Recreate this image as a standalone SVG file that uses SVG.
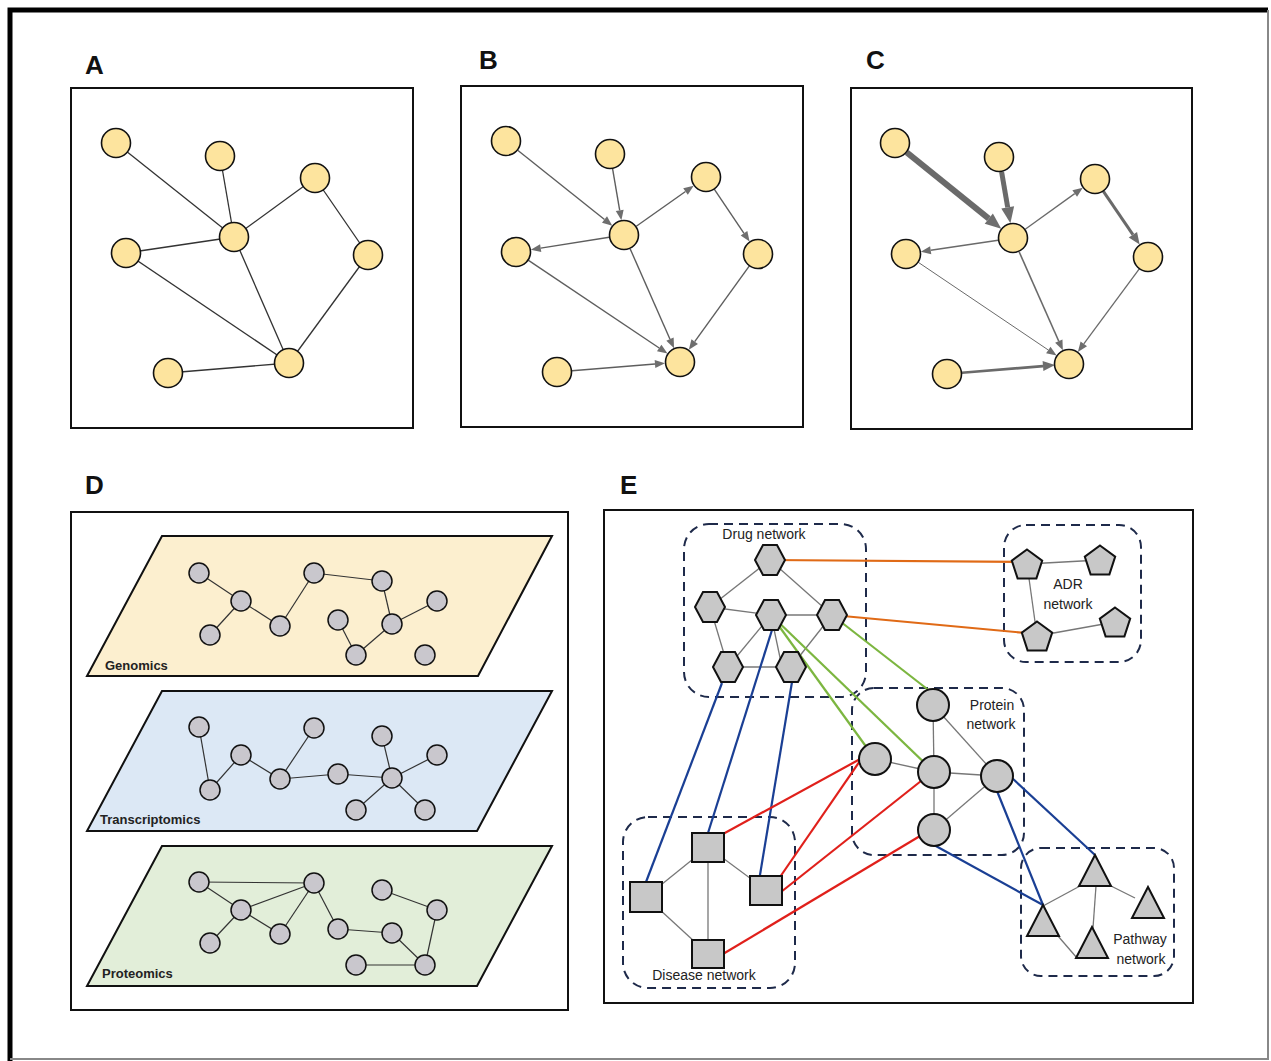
<svg xmlns="http://www.w3.org/2000/svg" xmlns:xlink="http://www.w3.org/1999/xlink" width="1271" height="1061" viewBox="0 0 1271 1061">
<style>
.frame{fill:none;stroke:#111;stroke-width:2}
.yn{fill:#fde49e;stroke:#111;stroke-width:1.6}
.ea{stroke:#333;stroke-width:1.3;fill:none}
.eb{stroke:#5e5e5e;stroke-width:1.4;fill:none}
.ec{stroke:#6a6a6a;fill:none}
.lbl{font-family:"Liberation Sans",Arial,sans-serif;font-weight:bold;font-size:26px;fill:#111}
.gn{fill:#c9c7cd;stroke:#111;stroke-width:1.5}
.ge{stroke:#333;stroke-width:1.2;fill:none}
.lt{font-family:"Liberation Sans",Arial,sans-serif;font-weight:bold;font-size:13px;fill:#222}
.en{fill:#c8c8c8;stroke:#111;stroke-width:2}
.ee{stroke:#777;stroke-width:1.3;fill:none}
.dash{fill:none;stroke:#1e2a4a;stroke-width:2;stroke-dasharray:9 6}
.t{font-family:"Liberation Sans",Arial,sans-serif;font-size:14px;fill:#222;text-anchor:middle}
.or{stroke:#e06a16;stroke-width:2.2;fill:none}
.gr{stroke:#7cb640;stroke-width:2.2;fill:none}
.bl{stroke:#1a3f94;stroke-width:2.2;fill:none}
.rd{stroke:#e0201b;stroke-width:2.2;fill:none}
</style>
<defs>
<marker id="ah" markerUnits="userSpaceOnUse" markerWidth="10" markerHeight="8" refX="0" refY="4" orient="auto" overflow="visible"><path d="M0,0 L10,4 L0,8 z" fill="#6e6e6e"/></marker>
<marker id="ahm" markerUnits="userSpaceOnUse" markerWidth="12" markerHeight="10" refX="0" refY="5" orient="auto" overflow="visible"><path d="M0,0 L12,5 L0,10 z" fill="#6e6e6e"/></marker>
<marker id="ahl" markerUnits="userSpaceOnUse" markerWidth="16" markerHeight="13" refX="0" refY="6.5" orient="auto" overflow="visible"><path d="M0,0 L16,6.5 L0,13 z" fill="#6e6e6e"/></marker>
<polygon id="hex" points="-15,0 -7,-15 7,-15 15,0 7,15 -7,15"/>
<polygon id="pent" points="0,-16 15.2,-4.9 9.4,12.9 -9.4,12.9 -15.2,-4.9"/>
<polygon id="tri" points="0,0 16,31 -16,31"/>
</defs>
<rect width="1271" height="1061" fill="#fff"/>
<!-- outer frame -->
<g id="outer-frame">
<path d="M10,1061 L10,10 L1268,10" fill="none" stroke="#000" stroke-width="5"/>
<path d="M1268,10 L1268,1059 L10,1059" fill="none" stroke="#888" stroke-width="2"/>
</g>

<!-- Panel labels -->
<g id="labels">
<text class="lbl" x="85" y="74">A</text>
<text class="lbl" x="479" y="69">B</text>
<text class="lbl" x="866" y="69">C</text>
<text class="lbl" x="85" y="494">D</text>
<text class="lbl" x="620" y="494">E</text>
</g>

<!-- Panel frames -->
<g id="panel-frames">
<rect class="frame" x="71" y="88" width="342" height="340"/>
<rect class="frame" x="461" y="86" width="342" height="341"/>
<rect class="frame" x="851" y="88" width="341" height="341"/>
<rect class="frame" x="71" y="512" width="497" height="498"/>
<rect class="frame" x="604" y="510" width="589" height="493"/>
</g>

<!-- Panel D planes -->
<g id="planes">
<polygon points="162,536 552,536 478,676 87,676" fill="#fcefcf" stroke="#111" stroke-width="2"/>
<polygon points="162,691 552,691 477,831 87,831" fill="#dce8f5" stroke="#111" stroke-width="2"/>
<polygon points="162,846 552,846 477,986 87,986" fill="#e2eed9" stroke="#111" stroke-width="2"/>
<text class="lt" x="105" y="670">Genomics</text>
<text class="lt" x="100" y="824">Transcriptomics</text>
<text class="lt" x="102" y="978">Proteomics</text>
</g>

<!-- Panel E group boxes -->
<g id="groups-E">
<rect class="dash" x="684" y="524" width="182" height="173" rx="25"/>
<rect class="dash" x="1004" y="525" width="137" height="137" rx="22"/>
<rect class="dash" x="852" y="688" width="172" height="167" rx="22"/>
<rect class="dash" x="623" y="817" width="172" height="171" rx="25"/>
<rect class="dash" x="1021" y="848" width="153" height="128" rx="20"/>
<text class="t" x="764" y="539">Drug network</text>
<text class="t" x="1068" y="589">ADR</text>
<text class="t" x="1068" y="609">network</text>
<text class="t" x="992" y="710">Protein</text>
<text class="t" x="991" y="729">network</text>
<text class="t" x="704" y="980">Disease network</text>
<text class="t" x="1140" y="944">Pathway</text>
<text class="t" x="1141" y="964">network</text>
</g>

<!-- Connectors -->
<g id="connectors">
<!-- A -->
<line class="ea" x1="116" y1="143" x2="234" y2="237"/>
<line class="ea" x1="220" y1="156" x2="234" y2="237"/>
<line class="ea" x1="234" y1="237" x2="315" y2="178"/>
<line class="ea" x1="126" y1="253" x2="234" y2="237"/>
<line class="ea" x1="315" y1="178" x2="368" y2="255"/>
<line class="ea" x1="126" y1="253" x2="289" y2="363"/>
<line class="ea" x1="234" y1="237" x2="289" y2="363"/>
<line class="ea" x1="368" y1="255" x2="289" y2="363"/>
<line class="ea" x1="168" y1="373" x2="289" y2="363"/>
<!-- B -->
<line class="eb" x1="517.7" y1="150.3" x2="604.5" y2="219.5" marker-end="url(#ah)"/>
<line class="eb" x1="612.6" y1="168.8" x2="619.7" y2="210.4" marker-end="url(#ah)"/>
<line class="eb" x1="636.3" y1="226.3" x2="685.5" y2="191.5" marker-end="url(#ah)"/>
<line class="eb" x1="609.2" y1="237.3" x2="540.7" y2="248.1" marker-end="url(#ah)"/>
<line class="eb" x1="714.4" y1="189.4" x2="744.0" y2="233.3" marker-end="url(#ah)"/>
<line class="eb" x1="528.5" y1="260.4" x2="659.2" y2="348.0" marker-end="url(#ah)"/>
<line class="eb" x1="630.1" y1="248.7" x2="670.0" y2="339.2" marker-end="url(#ah)"/>
<line class="eb" x1="749.2" y1="266.2" x2="694.7" y2="341.7" marker-end="url(#ah)"/>
<line class="eb" x1="572" y1="370.8" x2="655.0" y2="364.0" marker-end="url(#ah)"/>
<!-- C -->
<line class="ec" stroke-width="6" x1="906.7" y1="152.4" x2="988.8" y2="218.6" marker-end="url(#ahl)"/>
<line class="ec" stroke-width="5" x1="1001.6" y1="171.8" x2="1007.7" y2="207.4" marker-end="url(#ahl)"/>
<line class="ec" stroke-width="1.3" x1="1025.2" y1="229.2" x2="1074.7" y2="193.6" marker-end="url(#ah)"/>
<line class="ec" stroke-width="1.6" x1="998.2" y1="240.2" x2="930.7" y2="250.3" marker-end="url(#ah)"/>
<line class="ec" stroke-width="3" x1="1103.4" y1="191.4" x2="1132.9" y2="234.7" marker-end="url(#ahm)"/>
<line class="ec" stroke-width="1" x1="918.4" y1="262.4" x2="1048.3" y2="350.0" marker-end="url(#ah)"/>
<line class="ec" stroke-width="1.6" x1="1019.1" y1="251.7" x2="1058.8" y2="341.2" marker-end="url(#ah)"/>
<line class="ec" stroke-width="1.3" x1="1139.1" y1="269.1" x2="1083.8" y2="343.9" marker-end="url(#ah)"/>
<line class="ec" stroke-width="2.6" x1="962" y1="372.8" x2="1043.0" y2="366.1" marker-end="url(#ahm)"/>
<!-- D genomics -->
<line class="ge" x1="199" y1="573" x2="241" y2="601"/>
<line class="ge" x1="241" y1="601" x2="210" y2="635"/>
<line class="ge" x1="241" y1="601" x2="280" y2="626"/>
<line class="ge" x1="280" y1="626" x2="314" y2="573"/>
<line class="ge" x1="314" y1="573" x2="382" y2="581"/>
<line class="ge" x1="382" y1="581" x2="392" y2="624"/>
<line class="ge" x1="392" y1="624" x2="437" y2="601"/>
<line class="ge" x1="392" y1="624" x2="356" y2="655"/>
<line class="ge" x1="356" y1="655" x2="338" y2="620"/>
<!-- D transcriptomics -->
<line class="ge" x1="199" y1="727" x2="210" y2="790"/>
<line class="ge" x1="210" y1="790" x2="241" y2="755"/>
<line class="ge" x1="241" y1="755" x2="280" y2="779"/>
<line class="ge" x1="280" y1="779" x2="314" y2="728"/>
<line class="ge" x1="280" y1="779" x2="338" y2="774"/>
<line class="ge" x1="338" y1="774" x2="392" y2="778"/>
<line class="ge" x1="382" y1="736" x2="392" y2="778"/>
<line class="ge" x1="392" y1="778" x2="437" y2="755"/>
<line class="ge" x1="392" y1="778" x2="356" y2="810"/>
<line class="ge" x1="392" y1="778" x2="425" y2="810"/>
<!-- D proteomics -->
<line class="ge" x1="199" y1="882" x2="314" y2="883"/>
<line class="ge" x1="199" y1="882" x2="241" y2="910"/>
<line class="ge" x1="241" y1="910" x2="314" y2="883"/>
<line class="ge" x1="241" y1="910" x2="210" y2="943"/>
<line class="ge" x1="241" y1="910" x2="280" y2="934"/>
<line class="ge" x1="280" y1="934" x2="314" y2="883"/>
<line class="ge" x1="314" y1="883" x2="338" y2="929"/>
<line class="ge" x1="338" y1="929" x2="392" y2="933"/>
<line class="ge" x1="392" y1="933" x2="425" y2="965"/>
<line class="ge" x1="425" y1="965" x2="437" y2="910"/>
<line class="ge" x1="437" y1="910" x2="382" y2="890"/>
<line class="ge" x1="356" y1="965" x2="425" y2="965"/>
<!-- E internal: drug -->
<line class="ee" x1="770" y1="560" x2="710" y2="607"/>
<line class="ee" x1="770" y1="560" x2="832" y2="615"/>
<line class="ee" x1="710" y1="607" x2="771" y2="615"/>
<line class="ee" x1="710" y1="607" x2="728" y2="667"/>
<line class="ee" x1="771" y1="615" x2="832" y2="615"/>
<line class="ee" x1="771" y1="615" x2="728" y2="667"/>
<line class="ee" x1="771" y1="615" x2="782" y2="667"/>
<line class="ee" x1="832" y1="615" x2="791" y2="667"/>
<line class="ee" x1="728" y1="667" x2="791" y2="667"/>
<!-- E internal: ADR -->
<line class="ee" x1="1027" y1="564" x2="1100" y2="560"/>
<line class="ee" x1="1027" y1="564" x2="1037" y2="636"/>
<line class="ee" x1="1037" y1="636" x2="1115" y2="622"/>
<!-- E internal: protein -->
<line class="ee" x1="933" y1="705" x2="934" y2="772"/>
<line class="ee" x1="933" y1="705" x2="997" y2="776"/>
<line class="ee" x1="934" y1="772" x2="997" y2="776"/>
<line class="ee" x1="934" y1="772" x2="934" y2="830"/>
<line class="ee" x1="934" y1="830" x2="997" y2="776"/>
<line class="ee" x1="875" y1="759" x2="934" y2="772"/>
<!-- E internal: disease -->
<line class="ee" x1="708" y1="847" x2="646" y2="897"/>
<line class="ee" x1="708" y1="847" x2="766" y2="890"/>
<line class="ee" x1="708" y1="847" x2="708" y2="954"/>
<line class="ee" x1="646" y1="897" x2="708" y2="954"/>
<!-- E internal: pathway -->
<line class="ee" x1="1080" y1="886" x2="1043" y2="906"/>
<line class="ee" x1="1111" y1="886" x2="1135" y2="898"/>
<line class="ee" x1="1096" y1="886" x2="1093" y2="928"/>
<line class="ee" x1="1058" y1="936" x2="1077" y2="958"/>
<!-- E cross links -->
<line class="or" x1="770" y1="560" x2="1027" y2="562"/>
<line class="or" x1="832" y1="615" x2="1037" y2="634"/>
<line class="gr" x1="771" y1="615" x2="875" y2="759"/>
<line class="gr" x1="771" y1="615" x2="934" y2="772"/>
<line class="gr" x1="832" y1="615" x2="931" y2="692"/>
<line class="bl" x1="722" y1="683" x2="646" y2="882"/>
<line class="bl" x1="772" y1="630" x2="708" y2="833"/>
<line class="bl" x1="792" y1="682" x2="755" y2="905"/>
<line class="bl" x1="1012" y1="778" x2="1095" y2="855"/>
<line class="bl" x1="997" y1="791" x2="1043" y2="905"/>
<line class="bl" x1="934" y1="845" x2="1043" y2="905"/>
<line class="rd" x1="723" y1="834" x2="862" y2="758"/>
<line class="rd" x1="780" y1="877" x2="862" y2="758"/>
<line class="rd" x1="781" y1="892" x2="921" y2="781"/>
<line class="rd" x1="723" y1="954" x2="920" y2="836"/>
</g>

<!-- Panel A nodes -->
<g id="A-n1"><circle class="yn" cx="116" cy="143" r="14.5"/></g>
<g id="A-n2"><circle class="yn" cx="220" cy="156" r="14.5"/></g>
<g id="A-n3"><circle class="yn" cx="315" cy="178" r="14.5"/></g>
<g id="A-n4"><circle class="yn" cx="126" cy="253" r="14.5"/></g>
<g id="A-n5"><circle class="yn" cx="234" cy="237" r="14.5"/></g>
<g id="A-n6"><circle class="yn" cx="368" cy="255" r="14.5"/></g>
<g id="A-n7"><circle class="yn" cx="168" cy="373" r="14.5"/></g>
<g id="A-n8"><circle class="yn" cx="289" cy="363" r="14.5"/></g>
<!-- Panel B nodes -->
<g id="B-n1"><circle class="yn" cx="506" cy="141" r="14.5"/></g>
<g id="B-n2"><circle class="yn" cx="610" cy="154" r="14.5"/></g>
<g id="B-n3"><circle class="yn" cx="706" cy="177" r="14.5"/></g>
<g id="B-n4"><circle class="yn" cx="516" cy="252" r="14.5"/></g>
<g id="B-n5"><circle class="yn" cx="624" cy="235" r="14.5"/></g>
<g id="B-n6"><circle class="yn" cx="758" cy="254" r="14.5"/></g>
<g id="B-n7"><circle class="yn" cx="557" cy="372" r="14.5"/></g>
<g id="B-n8"><circle class="yn" cx="680" cy="362" r="14.5"/></g>
<!-- Panel C nodes -->
<g id="C-n1"><circle class="yn" cx="895" cy="143" r="14.5"/></g>
<g id="C-n2"><circle class="yn" cx="999" cy="157" r="14.5"/></g>
<g id="C-n3"><circle class="yn" cx="1095" cy="179" r="14.5"/></g>
<g id="C-n4"><circle class="yn" cx="906" cy="254" r="14.5"/></g>
<g id="C-n5"><circle class="yn" cx="1013" cy="238" r="14.5"/></g>
<g id="C-n6"><circle class="yn" cx="1148" cy="257" r="14.5"/></g>
<g id="C-n7"><circle class="yn" cx="947" cy="374" r="14.5"/></g>
<g id="C-n8"><circle class="yn" cx="1069" cy="364" r="14.5"/></g>

<!-- Panel D nodes -->
<g id="D-genomics-nodes">
<circle class="gn" cx="199" cy="573" r="10"/><circle class="gn" cx="241" cy="601" r="10"/>
<circle class="gn" cx="210" cy="635" r="10"/><circle class="gn" cx="280" cy="626" r="10"/>
<circle class="gn" cx="314" cy="573" r="10"/><circle class="gn" cx="382" cy="581" r="10"/>
<circle class="gn" cx="437" cy="601" r="10"/><circle class="gn" cx="338" cy="620" r="10"/>
<circle class="gn" cx="392" cy="624" r="10"/><circle class="gn" cx="356" cy="655" r="10"/>
<circle class="gn" cx="425" cy="655" r="10"/>
</g>
<g id="D-transcriptomics-nodes">
<circle class="gn" cx="199" cy="727" r="10"/><circle class="gn" cx="241" cy="755" r="10"/>
<circle class="gn" cx="210" cy="790" r="10"/><circle class="gn" cx="280" cy="779" r="10"/>
<circle class="gn" cx="314" cy="728" r="10"/><circle class="gn" cx="338" cy="774" r="10"/>
<circle class="gn" cx="382" cy="736" r="10"/><circle class="gn" cx="392" cy="778" r="10"/>
<circle class="gn" cx="437" cy="755" r="10"/><circle class="gn" cx="356" cy="810" r="10"/>
<circle class="gn" cx="425" cy="810" r="10"/>
</g>
<g id="D-proteomics-nodes">
<circle class="gn" cx="199" cy="882" r="10"/><circle class="gn" cx="314" cy="883" r="10"/>
<circle class="gn" cx="241" cy="910" r="10"/><circle class="gn" cx="210" cy="943" r="10"/>
<circle class="gn" cx="280" cy="934" r="10"/><circle class="gn" cx="338" cy="929" r="10"/>
<circle class="gn" cx="382" cy="890" r="10"/><circle class="gn" cx="437" cy="910" r="10"/>
<circle class="gn" cx="392" cy="933" r="10"/><circle class="gn" cx="356" cy="965" r="10"/>
<circle class="gn" cx="425" cy="965" r="10"/>
</g>

<!-- Panel E nodes: drug hexagons -->
<g id="drug-1"><use class="en" href="#hex" xlink:href="#hex" x="770" y="560"/></g>
<g id="drug-2"><use class="en" href="#hex" xlink:href="#hex" x="710" y="607"/></g>
<g id="drug-3"><use class="en" href="#hex" xlink:href="#hex" x="771" y="615"/></g>
<g id="drug-4"><use class="en" href="#hex" xlink:href="#hex" x="832" y="615"/></g>
<g id="drug-5"><use class="en" href="#hex" xlink:href="#hex" x="728" y="667"/></g>
<g id="drug-6"><use class="en" href="#hex" xlink:href="#hex" x="791" y="667"/></g>
<!-- ADR pentagons -->
<g id="adr-1"><use class="en" href="#pent" xlink:href="#pent" x="1027" y="565.5"/></g>
<g id="adr-2"><use class="en" href="#pent" xlink:href="#pent" x="1100" y="561.5"/></g>
<g id="adr-3"><use class="en" href="#pent" xlink:href="#pent" x="1037" y="637.5"/></g>
<g id="adr-4"><use class="en" href="#pent" xlink:href="#pent" x="1115" y="623.5"/></g>
<!-- Protein circles -->
<g id="prot-1"><circle class="en" cx="933" cy="705" r="16"/></g>
<g id="prot-2"><circle class="en" cx="934" cy="772" r="16"/></g>
<g id="prot-3"><circle class="en" cx="997" cy="776" r="16"/></g>
<g id="prot-4"><circle class="en" cx="934" cy="830" r="16"/></g>
<g id="prot-5"><circle class="en" cx="875" cy="759" r="16"/></g>
<!-- Disease squares -->
<g id="dis-1"><rect class="en" x="692" y="833" width="32" height="29"/></g>
<g id="dis-2"><rect class="en" x="630" y="882" width="32" height="30"/></g>
<g id="dis-3"><rect class="en" x="750" y="876" width="32" height="29"/></g>
<g id="dis-4"><rect class="en" x="692" y="940" width="32" height="28"/></g>
<!-- Pathway triangles -->
<g id="path-1"><use class="en" href="#tri" xlink:href="#tri" x="1095" y="855"/></g>
<g id="path-2"><use class="en" href="#tri" xlink:href="#tri" x="1148" y="887"/></g>
<g id="path-3"><use class="en" href="#tri" xlink:href="#tri" x="1043" y="905"/></g>
<g id="path-4"><use class="en" href="#tri" xlink:href="#tri" x="1092" y="927"/></g>
</svg>
